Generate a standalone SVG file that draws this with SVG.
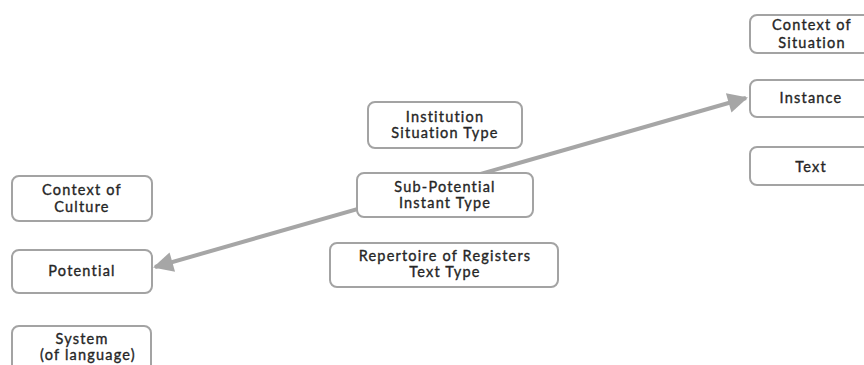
<svg xmlns="http://www.w3.org/2000/svg" width="864" height="365" viewBox="0 0 864 365">
  <style>
    .box { fill: #ffffff; stroke: #a3a3a3; stroke-width: 2; }
    .lbl { font-family: Lato, "Open Sans", "Liberation Sans", sans-serif; font-size: 14.5px; letter-spacing: 1.2px; fill: #262626; stroke: #262626; stroke-width: 0.35; text-anchor: middle; }
    .link { stroke: #a6a6a6; stroke-width: 4; fill: none; }
  </style>
  <defs>
    <marker id="head" viewBox="0 0 10 10" refX="9" refY="5" markerWidth="5.5" markerHeight="5" orient="auto-start-reverse" markerUnits="strokeWidth">
      <path d="M0,0 L10,5 L0,10 z" fill="#a6a6a6"/>
    </marker>
  </defs>
  <rect width="864" height="365" fill="#ffffff"/>

  <!-- connectors -->
  <g id="connectors">
    <line class="link" x1="155" y1="267" x2="746" y2="98" marker-start="url(#head)" marker-end="url(#head)"/>
  </g>

  <!-- left column -->
  <g id="context-of-culture">
    <rect class="box" x="12" y="176" width="140" height="45" rx="7"/>
    <text class="lbl" x="82" y="195">Context of</text>
    <text class="lbl" x="82" y="212">Culture</text>
  </g>
  <g id="potential">
    <rect class="box" x="12" y="250" width="140" height="43" rx="7"/>
    <text class="lbl" x="82" y="276">Potential</text>
  </g>
  <g id="system">
    <rect class="box" x="12" y="326" width="139" height="48" rx="7"/>
    <text class="lbl" x="82" y="344">System</text>
    <text class="lbl" x="88" y="360">(of language)</text>
  </g>

  <!-- middle column -->
  <g id="institution">
    <rect class="box" x="368" y="102" width="154" height="46" rx="7"/>
    <text class="lbl" x="445" y="122">Institution</text>
    <text class="lbl" x="445" y="138">Situation Type</text>
  </g>
  <g id="sub-potential">
    <rect class="box" x="357" y="173" width="176" height="44" rx="7"/>
    <text class="lbl" x="445" y="192">Sub-Potential</text>
    <text class="lbl" x="445" y="208">Instant Type</text>
  </g>
  <g id="repertoire">
    <rect class="box" x="330" y="243" width="228" height="44" rx="7"/>
    <text class="lbl" x="445" y="261">Repertoire of Registers</text>
    <text class="lbl" x="445" y="277">Text Type</text>
  </g>

  <!-- right column -->
  <g id="context-of-situation">
    <rect class="box" x="750" y="15" width="124" height="38" rx="7"/>
    <text class="lbl" x="812" y="30">Context of</text>
    <text class="lbl" x="812" y="48">Situation</text>
  </g>
  <g id="instance">
    <rect class="box" x="750" y="80" width="124" height="37" rx="7"/>
    <text class="lbl" x="811" y="103">Instance</text>
  </g>
  <g id="text">
    <rect class="box" x="750" y="147" width="124" height="38" rx="7"/>
    <text class="lbl" x="811" y="172">Text</text>
  </g>
</svg>
